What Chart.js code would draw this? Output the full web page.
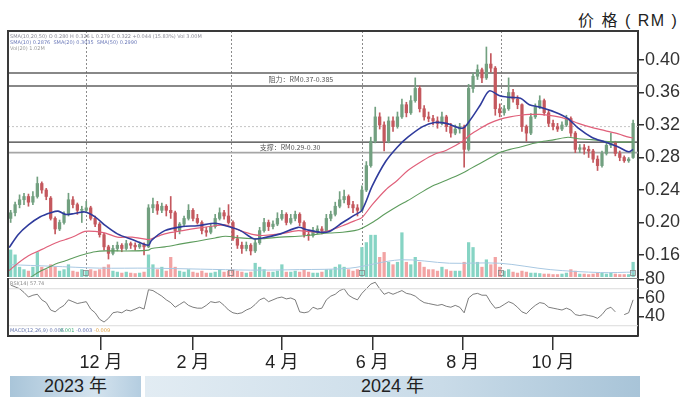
<!DOCTYPE html>
<html>
<head>
<meta charset="utf-8">
<script src="https://cdn.jsdelivr.net/npm/chart.js@4.4.1/dist/chart.umd.min.js"></script>
<style>
  html, body { margin: 0; padding: 0; background: #fff; }
  #wrap { position: relative; width: 690px; height: 401px; overflow: hidden;
          font-family: "Liberation Sans", "Noto Sans CJK SC", sans-serif; }
  #priceBox { position: absolute; left: 0; top: 0; width: 690px; height: 278px; }
  #rsiBox { position: absolute; left: 0; top: 260px; width: 690px; height: 116px; }
  .title { position: absolute; left: 578px; top: 7px; font-size: 16px; color: #222; letter-spacing: 1.5px; }
  .year { position: absolute; top: 376px; height: 21px; line-height: 21px;
          font-size: 18px; color: #222; text-align: center; }
  #y2023 { left: 10px; width: 131px;
           background: linear-gradient(to right, #a9c5d9, #d4e3ee 65%, #b4cde0); }
  #y2024 { left: 145px; width: 495px;
           background: linear-gradient(to right, #e2ecf3, #c9dbe8 60%, #a8c4d8); }
</style>
</head>
<body>
<div id="wrap">
  <div class="title">价 格 ( RM )</div>
  <div id="priceBox"><canvas id="priceChart"></canvas></div>
  <div id="rsiBox"><canvas id="rsiChart"></canvas></div>
  <div class="year" id="y2023">2023 年</div>
  <div class="year" id="y2024">2024 年</div>
</div>
<script>
// ------------------------------------------------------
// DATA (one candle every 3 calendar days, day 0 = 1 Oct 2023)
// ------------------------------------------------------
const STEP_DAYS = 3;

const opens = [
  0.205, 0.212, 0.222, 0.228, 0.232, 0.225, 0.232, 0.248, 0.240, 0.230,
  0.205, 0.192, 0.200, 0.210, 0.228, 0.222, 0.215, 0.215, 0.218, 0.205,
  0.198, 0.185, 0.170, 0.162, 0.168, 0.172, 0.168, 0.174, 0.172, 0.170,
  0.173, 0.170, 0.218, 0.222, 0.215, 0.220, 0.215, 0.212, 0.190, 0.198,
  0.205, 0.215, 0.205, 0.200, 0.190, 0.188, 0.195, 0.205, 0.212, 0.208,
  0.200, 0.180, 0.172, 0.168, 0.172, 0.165, 0.175, 0.190, 0.200, 0.195,
  0.198, 0.205, 0.210, 0.200, 0.205, 0.210, 0.200, 0.185, 0.184, 0.190,
  0.192, 0.190, 0.205, 0.210, 0.220, 0.228, 0.232, 0.222, 0.218, 0.215,
  0.240, 0.270, 0.300, 0.330, 0.320, 0.300, 0.325, 0.318, 0.330, 0.345,
  0.335, 0.350, 0.365, 0.340, 0.330, 0.328, 0.325, 0.322, 0.330, 0.318,
  0.310, 0.315, 0.318, 0.290, 0.365, 0.380, 0.388, 0.378, 0.395, 0.390,
  0.340, 0.335, 0.340, 0.360, 0.352, 0.345, 0.318, 0.310, 0.330, 0.342,
  0.350, 0.335, 0.322, 0.318, 0.315, 0.320, 0.328, 0.310, 0.290, 0.292,
  0.290, 0.288, 0.278, 0.270, 0.285, 0.295, 0.298, 0.285, 0.280, 0.276, 0.280
];
const highs = [
  0.215, 0.225, 0.234, 0.236, 0.235, 0.238, 0.256, 0.250, 0.242, 0.232,
  0.207, 0.203, 0.213, 0.236, 0.232, 0.224, 0.220, 0.226, 0.220, 0.208,
  0.200, 0.187, 0.172, 0.172, 0.176, 0.174, 0.178, 0.176, 0.175, 0.176,
  0.175, 0.222, 0.230, 0.226, 0.224, 0.222, 0.232, 0.214, 0.200, 0.208,
  0.222, 0.217, 0.210, 0.202, 0.194, 0.198, 0.210, 0.218, 0.215, 0.222,
  0.202, 0.184, 0.176, 0.176, 0.174, 0.180, 0.194, 0.205, 0.203, 0.202,
  0.212, 0.215, 0.212, 0.210, 0.214, 0.212, 0.202, 0.190, 0.194, 0.196,
  0.195, 0.210, 0.214, 0.225, 0.238, 0.240, 0.234, 0.226, 0.222, 0.245,
  0.275, 0.305, 0.342, 0.335, 0.324, 0.330, 0.330, 0.336, 0.352, 0.348,
  0.356, 0.378, 0.368, 0.344, 0.336, 0.332, 0.330, 0.336, 0.332, 0.322,
  0.320, 0.322, 0.320, 0.370, 0.384, 0.394, 0.390, 0.416, 0.408, 0.392,
  0.346, 0.344, 0.378, 0.364, 0.356, 0.346, 0.320, 0.334, 0.346, 0.356,
  0.352, 0.338, 0.326, 0.322, 0.324, 0.332, 0.330, 0.312, 0.296, 0.296,
  0.294, 0.290, 0.282, 0.288, 0.298, 0.310, 0.300, 0.288, 0.282, 0.280, 0.326
];
const lows = [
  0.200, 0.208, 0.218, 0.222, 0.220, 0.222, 0.230, 0.236, 0.228, 0.203,
  0.186, 0.190, 0.198, 0.208, 0.218, 0.210, 0.200, 0.212, 0.203, 0.195,
  0.182, 0.166, 0.155, 0.160, 0.165, 0.164, 0.166, 0.168, 0.166, 0.168,
  0.160, 0.169, 0.212, 0.210, 0.212, 0.208, 0.205, 0.180, 0.186, 0.195,
  0.203, 0.202, 0.198, 0.186, 0.183, 0.186, 0.193, 0.203, 0.204, 0.198,
  0.178, 0.168, 0.162, 0.165, 0.160, 0.163, 0.173, 0.188, 0.190, 0.192,
  0.196, 0.203, 0.197, 0.198, 0.202, 0.196, 0.182, 0.178, 0.182, 0.186,
  0.186, 0.189, 0.202, 0.208, 0.218, 0.224, 0.218, 0.212, 0.208, 0.214,
  0.238, 0.268, 0.298, 0.315, 0.288, 0.298, 0.312, 0.316, 0.328, 0.330,
  0.333, 0.348, 0.336, 0.326, 0.324, 0.320, 0.316, 0.320, 0.312, 0.305,
  0.308, 0.310, 0.268, 0.288, 0.360, 0.376, 0.372, 0.376, 0.385, 0.332,
  0.330, 0.332, 0.338, 0.348, 0.340, 0.312, 0.300, 0.308, 0.328, 0.340,
  0.332, 0.318, 0.314, 0.312, 0.313, 0.318, 0.306, 0.286, 0.286, 0.284,
  0.280, 0.274, 0.264, 0.268, 0.283, 0.292, 0.282, 0.276, 0.274, 0.274, 0.279
];
const closes = [
  0.212, 0.222, 0.228, 0.232, 0.225, 0.232, 0.248, 0.240, 0.232, 0.205,
  0.192, 0.200, 0.210, 0.228, 0.222, 0.215, 0.215, 0.218, 0.205, 0.198,
  0.185, 0.170, 0.162, 0.168, 0.172, 0.168, 0.174, 0.172, 0.170, 0.173,
  0.170, 0.218, 0.222, 0.215, 0.220, 0.215, 0.212, 0.190, 0.198, 0.205,
  0.215, 0.205, 0.200, 0.190, 0.188, 0.195, 0.205, 0.212, 0.208, 0.200,
  0.180, 0.172, 0.168, 0.172, 0.165, 0.175, 0.190, 0.200, 0.195, 0.198,
  0.205, 0.210, 0.200, 0.205, 0.210, 0.200, 0.185, 0.184, 0.190, 0.192,
  0.190, 0.205, 0.210, 0.220, 0.228, 0.232, 0.222, 0.218, 0.215, 0.240,
  0.270, 0.300, 0.330, 0.320, 0.300, 0.325, 0.318, 0.330, 0.345, 0.335,
  0.350, 0.365, 0.340, 0.330, 0.328, 0.325, 0.322, 0.330, 0.318, 0.310,
  0.315, 0.318, 0.290, 0.365, 0.380, 0.388, 0.378, 0.395, 0.390, 0.340,
  0.335, 0.340, 0.360, 0.352, 0.345, 0.318, 0.310, 0.330, 0.342, 0.350,
  0.335, 0.322, 0.318, 0.315, 0.320, 0.328, 0.310, 0.290, 0.292, 0.290,
  0.288, 0.278, 0.270, 0.285, 0.295, 0.298, 0.285, 0.280, 0.276, 0.278, 0.322
];
// volume, million shares
const volumes = [
  5.5, 4.5, 2, 1.5, 1.2, 2, 5, 2, 1.5, 2.5,
  2, 1.2, 1.5, 2.5, 1.2, 1, 1.5, 1.2, 1.5, 1.2,
  1.5, 2, 2.5, 1.2, 1, 0.8, 1, 0.8, 0.7, 0.8,
  1, 4.5, 2.5, 1.5, 2, 1.2, 4, 2, 1.2, 1,
  1.5, 1, 0.8, 1.2, 0.8, 0.8, 1, 1.5, 1, 1.2,
  1.5, 1.2, 1, 0.8, 1, 2.8, 2, 1.5, 1, 1,
  1.2, 2.5, 1, 1, 1.2, 1, 1.5, 1, 0.8, 0.8,
  1, 1.5, 1.5, 2, 2.5, 2, 1.5, 1.2, 1.5, 6,
  7, 8.5, 8.5, 4, 5, 3, 2.5, 3, 9, 3,
  2.5, 4, 3, 2, 1.5, 1.5, 1.2, 2, 1.5, 1.2,
  1.2, 1.2, 3, 7, 6, 3, 2, 3.5, 2.5, 4,
  2, 1.2, 1.5, 1, 0.8, 1.2, 1, 0.8, 0.8, 0.7,
  0.6, 0.6, 0.5, 0.5, 0.6, 0.8, 1.5, 1.2, 0.6, 0.6,
  0.5, 0.6, 0.8, 0.8, 0.6, 0.8, 0.6, 0.5, 0.5, 0.5, 3
];
const rsiValues = [
  74, 72, 70, 66, 61, 63, 64, 58, 55, 47,
  45, 49, 52, 58, 56, 54, 55, 56, 48, 44,
  37, 34, 38, 44, 45, 44, 47, 46, 48, 50,
  48, 69, 68, 65, 62, 58, 55, 50, 53, 56,
  52, 50, 49, 49, 52, 56, 55, 56, 52, 47,
  44, 43, 44, 47, 49, 53, 58, 60, 56, 58,
  60, 61, 59, 60, 58, 45, 44, 45, 50, 48,
  49, 58, 62, 64, 68, 70, 63, 60, 58, 65,
  70, 75, 77, 70, 64, 66, 64, 66, 68, 65,
  64, 62, 58, 55, 54, 53, 52, 53, 51, 50,
  52, 50, 44, 60, 64, 65, 63, 63, 55, 49,
  50, 53, 56, 54, 50, 45, 43, 48, 52, 55,
  54, 50, 49, 48, 47, 49, 47, 42, 41, 42,
  41, 40, 38, 42, 48, 50, 45, null, 42, 44, 58
];

// moving averages
const maDays = [
  -1, 5, 12, 20, 27, 32, 37, 43, 50, 57,
  64, 72, 82, 93, 95, 104, 116, 126, 138, 145,
  155, 164, 170, 182, 194, 200, 209, 215, 224, 232,
  237, 244, 253, 261, 268, 278, 286, 294, 305, 310,
  317, 323, 330, 337, 344, 350, 357, 367, 376, 383,
  392, 401, 410, 417, 420
];
const maShort = [
  0.169, 0.185, 0.197, 0.207, 0.212, 0.214, 0.210, 0.211, 0.213, 0.207,
  0.196, 0.186, 0.179, 0.172, 0.178, 0.190, 0.195, 0.196, 0.199, 0.196,
  0.190, 0.180, 0.181, 0.186, 0.194, 0.191, 0.188, 0.189, 0.200, 0.209,
  0.215, 0.245, 0.275, 0.293, 0.305, 0.318, 0.323, 0.322, 0.316, 0.326,
  0.345, 0.362, 0.356, 0.354, 0.353, 0.345, 0.342, 0.336, 0.328, 0.316,
  0.305, 0.299, 0.293, 0.287, 0.290
];
const maMid = [
  0.141, 0.150, 0.159, 0.166, 0.172, 0.176, 0.179, 0.183, 0.189, 0.189,
  0.187, 0.182, 0.182, 0.179, 0.180, 0.186, 0.190, 0.193, 0.196, 0.197,
  0.190, 0.185, 0.184, 0.186, 0.190, 0.189, 0.188, 0.190, 0.196, 0.202,
  0.206, 0.222, 0.240, 0.252, 0.264, 0.276, 0.284, 0.289, 0.300, 0.308,
  0.316, 0.322, 0.327, 0.330, 0.332, 0.333, 0.333, 0.331, 0.327, 0.322,
  0.317, 0.313, 0.309, 0.305, 0.304
];
const maLong = [
  0.118, 0.124, 0.131, 0.140, 0.146, 0.150, 0.153, 0.157, 0.161, 0.164,
  0.165, 0.165, 0.165, 0.166, 0.168, 0.170, 0.174, 0.177, 0.181, 0.183,
  0.181, 0.180, 0.180, 0.182, 0.183, 0.184, 0.186, 0.187, 0.188, 0.190,
  0.193, 0.200, 0.211, 0.220, 0.227, 0.238, 0.246, 0.252, 0.261, 0.266,
  0.273, 0.279, 0.286, 0.290, 0.293, 0.296, 0.299, 0.302, 0.305, 0.303,
  0.302, 0.300, 0.299, 0.299, 0.299
];
const volMaDays = [0, 27, 60, 94, 128, 162, 195, 229, 263, 296, 330, 364, 398, 421];
const volMa = [2.5, 2.2, 1.8, 1.8, 1.6, 1.4, 1.5, 1.8, 3.5, 2.8, 2.8, 1.5, 0.9, 1.0];

const resistance = [0.384, 0.368];
const support = [0.299, 0.286];
const lastPrice = 0.318;
const markerDays = [51, 149, 237, 331];
const levelLabels = [
  { text: "阻力：RM0.37-0.385", day: 174, price: 0.376 },
  { text: "支撑：RM0.29-0.30", day: 168, price: 0.2925 }
];

const monthDays = [61, 123, 183, 244, 305, 366];
const monthLabels = ["12 月", "2 月", "4 月", "6 月", "8 月", "10 月"];
const priceTicks = [0.16, 0.20, 0.24, 0.28, 0.32, 0.36, 0.40];
const rsiTicks = [40, 60, 80];
const rsiLevels = [70, 30];

// axis ranges
const X_MIN = -1.8, X_MAX = 423.3;
const PRICE_MIN = 0.1329, PRICE_MAX = 0.4357;
const VOL_MAX = 50;
const RSI_MIN = 18.9, RSI_MAX = 81.6;

// ------------------------------------------------------
// Chart Defaults
// ------------------------------------------------------
Chart.defaults.font.family = '"Liberation Sans","Noto Sans CJK SC",sans-serif';
Chart.defaults.color = "#333";

const UP = "#72a080", DOWN = "#c4585e";
const VOL_UP = "#86d4c4", VOL_DOWN = "#f2a3a3";

const candleDays = closes.map((c, i) => i * STEP_DAYS);
const isUp = closes.map((c, i) => c >= opens[i]);

function pts(xs, ys) {
  return xs.map((x, i) => ({ x: x, y: ys[i] }));
}
function hLine(v) {
  return [{ x: X_MIN, y: v }, { x: X_MAX, y: v }];
}

// ------------------------------------------------------
// PLUGINS
// ------------------------------------------------------
const pricePanel = {
  id: "pricePanel",
  beforeDatasetsDraw(chart) {
    const { ctx, chartArea: a, scales } = chart;
    ctx.save();
    ctx.strokeStyle = "#8c8c8c";
    ctx.lineWidth = 1;
    ctx.setLineDash([2, 2]);
    markerDays.forEach(function (d) {
      const px = Math.round(scales.x.getPixelForValue(d)) + 0.5;
      ctx.beginPath();
      ctx.moveTo(px, a.top);
      ctx.lineTo(px, a.bottom);
      ctx.stroke();
    });
    ctx.restore();
  },
  afterDraw(chart) {
    const { ctx, chartArea: a, scales } = chart;
    ctx.save();
    // level labels
    ctx.font = '7px "Noto Sans CJK SC"';
    ctx.fillStyle = "#555";
    ctx.textBaseline = "middle";
    levelLabels.forEach(function (l) {
      ctx.fillText(l.text, scales.x.getPixelForValue(l.day), scales.y.getPixelForValue(l.price));
    });
    // small boxes at the foot of the marker lines
    ctx.strokeStyle = "#888";
    ctx.lineWidth = 0.8;
    markerDays.concat([420]).forEach(function (d) {
      const px = Math.round(scales.x.getPixelForValue(d));
      ctx.strokeRect(px - 2.5, a.bottom - 6.5, 5, 5);
    });
    // tiny legend text
    ctx.font = '5px "DejaVu Sans"';
    ctx.fillStyle = "#8a8a96";
    ctx.textBaseline = "top";
    ctx.fillText("SMA(10,20,50) O 0.280 H 0.326 L 0.279 C 0.322 +0.044 (15.83%) Vol 3.00M", a.left + 2, a.top + 3);
    ctx.fillStyle = "#6a78b8";
    ctx.fillText("SMA(10) 0.2876  SMA(20) 0.3035  SMA(50) 0.2990", a.left + 2, a.top + 9);
    ctx.fillStyle = "#9a9a9a";
    ctx.fillText("Vol(20) 1.02M", a.left + 2, a.top + 15);
    // frame: left and top
    ctx.strokeStyle = "#3a3a3a";
    ctx.lineWidth = 2;
    ctx.beginPath();
    ctx.moveTo(a.left, a.bottom);
    ctx.lineTo(a.left, a.top);
    ctx.lineTo(a.right, a.top);
    ctx.stroke();
    ctx.restore();
  }
};

const rsiPanel = {
  id: "rsiPanel",
  afterDraw(chart) {
    const { ctx, chartArea: a } = chart;
    ctx.save();
    ctx.font = '5px "DejaVu Sans"';
    ctx.textBaseline = "top";
    ctx.fillStyle = "#8a8a8a";
    ctx.fillText("RSI(14) 57.74", a.left + 2, a.top + 3);
    ctx.fillStyle = "#6a7ab0";
    ctx.fillText("MACD(12,26,9) 0.006", a.left + 2, a.bottom - 8);
    ctx.fillStyle = "#3fae7a";
    ctx.fillText("0.001", a.left + 52, a.bottom - 8);
    ctx.fillStyle = "#5a6ab0";
    ctx.fillText("-0.003", a.left + 68, a.bottom - 8);
    ctx.fillStyle = "#e0a040";
    ctx.fillText("-0.009", a.left + 86, a.bottom - 8);
    // divider and left frame
    ctx.strokeStyle = "#8a8a8a";
    ctx.lineWidth = 1;
    ctx.beginPath();
    ctx.moveTo(a.left, a.top + 0.5);
    ctx.lineTo(a.right, a.top + 0.5);
    ctx.stroke();
    ctx.strokeStyle = "#3a3a3a";
    ctx.lineWidth = 2;
    ctx.beginPath();
    ctx.moveTo(a.left, a.top);
    ctx.lineTo(a.left, a.bottom);
    ctx.stroke();
    ctx.restore();
  }
};

function rightAxisFit(scale) {
  scale.width = 52;
  scale.paddingTop = 0;
  scale.paddingBottom = 0;
}

// ------------------------------------------------------
// PRICE + VOLUME
// ------------------------------------------------------
new Chart(document.getElementById("priceChart"), {
  type: "bar",
  data: {
    datasets: [
      {
        type: "bar", yAxisID: "yVol", order: 10,
        data: pts(candleDays, volumes),
        backgroundColor: isUp.map(u => (u ? VOL_UP : VOL_DOWN)),
        barThickness: 2.6, grouped: false
      },
      {
        type: "line", yAxisID: "yVol", order: 9,
        data: pts(volMaDays, volMa),
        borderColor: "#a8c8e2", borderWidth: 1, pointRadius: 0, tension: 0.3
      },
      {
        type: "line", order: 8, data: hLine(lastPrice),
        borderColor: "#c4c4c4", borderWidth: 1, borderDash: [2, 2], pointRadius: 0
      },
      {
        type: "line", order: 8, data: hLine(resistance[0]),
        borderColor: "#606060", borderWidth: 1.3, pointRadius: 0
      },
      {
        type: "line", order: 8, data: hLine(resistance[1]),
        borderColor: "#606060", borderWidth: 1.3, pointRadius: 0
      },
      {
        type: "line", order: 8, data: hLine(support[0]),
        borderColor: "#3c3c3c", borderWidth: 1.3, pointRadius: 0
      },
      {
        type: "line", order: 8, data: hLine(support[1]),
        borderColor: "#a6a6a6", borderWidth: 1.8, pointRadius: 0
      },
      {
        type: "bar", order: 5,
        data: candleDays.map((d, i) => ({ x: d, y: [lows[i], highs[i]] })),
        backgroundColor: isUp.map(u => (u ? UP : DOWN)),
        barThickness: 1, grouped: false
      },
      {
        type: "bar", order: 4,
        data: candleDays.map((d, i) => ({ x: d, y: [opens[i], closes[i]] })),
        backgroundColor: isUp.map(u => (u ? UP : DOWN)),
        barThickness: 2.6, minBarLength: 1, grouped: false
      },
      {
        type: "line", order: 3, data: pts(maDays, maLong),
        borderColor: "#5d9c5d", borderWidth: 1.1, pointRadius: 0, tension: 0.3
      },
      {
        type: "line", order: 2, data: pts(maDays, maMid),
        borderColor: "#e0607a", borderWidth: 1.2, pointRadius: 0, tension: 0.3
      },
      {
        type: "line", order: 1, data: pts(maDays, maShort),
        borderColor: "#2f3b9c", borderWidth: 1.6, pointRadius: 0, tension: 0.3
      }
    ]
  },
  options: {
    responsive: true,
    maintainAspectRatio: false,
    animation: false,
    layout: { padding: { left: 8, top: 31, right: 0, bottom: 1 } },
    plugins: { legend: { display: false }, tooltip: { enabled: false } },
    scales: {
      x: { type: "linear", min: X_MIN, max: X_MAX, offset: false, display: false },
      y: {
        type: "linear", position: "right", min: PRICE_MIN, max: PRICE_MAX,
        afterBuildTicks: s => { s.ticks = priceTicks.map(v => ({ value: v })); },
        afterFit: rightAxisFit,
        ticks: { callback: v => v.toFixed(2), font: { size: 18 }, color: "#333", padding: 1 },
        grid: { drawOnChartArea: false, tickLength: 6, color: "#333", lineWidth: 1.5 },
        border: { display: true, color: "#333", width: 2 }
      },
      yVol: { type: "linear", min: 0, max: VOL_MAX, display: false }
    }
  },
  plugins: [pricePanel]
});

// ------------------------------------------------------
// RSI + MONTH AXIS
// ------------------------------------------------------
new Chart(document.getElementById("rsiChart"), {
  type: "line",
  data: {
    datasets: [
      {
        data: hLine(rsiLevels[0]), borderColor: "#dcdcdc", borderWidth: 1, pointRadius: 0
      },
      {
        data: hLine(rsiLevels[1]), borderColor: "#dcdcdc", borderWidth: 1, pointRadius: 0
      },
      {
        data: pts(candleDays, rsiValues), borderColor: "#5a5a5a", borderWidth: 0.8,
        pointRadius: 0, spanGaps: false
      }
    ]
  },
  options: {
    responsive: true,
    maintainAspectRatio: false,
    animation: false,
    layout: { padding: { left: 8, top: 18, right: 0, bottom: 0 } },
    plugins: { legend: { display: false }, tooltip: { enabled: false } },
    scales: {
      x: {
        type: "linear", min: X_MIN, max: X_MAX, offset: false, position: "bottom",
        afterBuildTicks: s => { s.ticks = monthDays.map(v => ({ value: v })); },
        afterFit: s => { s.height = 40; },
        ticks: {
          autoSkip: false, maxRotation: 0, padding: 2,
          callback: (v, i) => monthLabels[i],
          font: { size: 18 }, color: "#222"
        },
        grid: { drawOnChartArea: false, tickLength: 14, color: "#333", lineWidth: 1.5 },
        border: { display: true, color: "#333", width: 2 }
      },
      y: {
        type: "linear", position: "right", min: RSI_MIN, max: RSI_MAX,
        afterBuildTicks: s => { s.ticks = rsiTicks.map(v => ({ value: v })); },
        afterFit: rightAxisFit,
        ticks: { font: { size: 18 }, color: "#333", padding: 1 },
        grid: { drawOnChartArea: false, tickLength: 6, color: "#333", lineWidth: 1.5 },
        border: { display: true, color: "#333", width: 2 }
      }
    }
  },
  plugins: [rsiPanel]
});
</script>
</body>
</html>
